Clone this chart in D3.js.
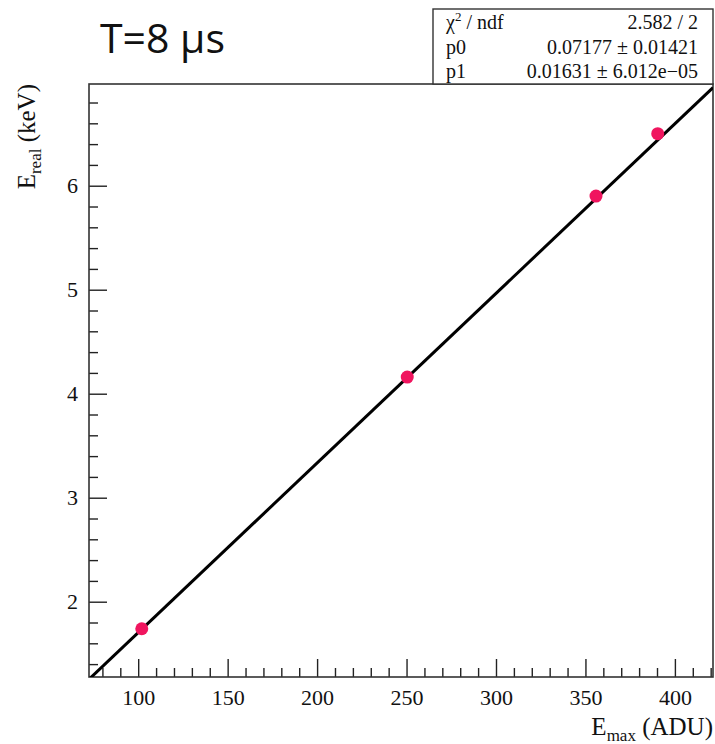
<!DOCTYPE html>
<html>
<head>
<meta charset="utf-8">
<script src="https://cdn.jsdelivr.net/npm/d3@7"></script>
<style>
  body { margin: 0; background: #fff; }
  .tick text { font-family: "Liberation Serif", "Times New Roman", serif; }
</style>
</head>
<body>
<svg id="chart" width="715" height="744"></svg>
<script>
// measured points
const eMax = [102, 250.4, 355.9, 390.4];
const eReal = [1.74, 4.16, 5.90, 6.50];

// linear fit E_real = p0 + p1 * E_max
const p0 = 0.07177;
const p1 = 0.01631;

const statLabels = ["χ² / ndf", "p0", "p1"];
const statValues = ["2.582 / 2", "0.07177 ± 0.01421", "0.01631 ± 6.012e−05"];

const xMajor = [100, 150, 200, 250, 300, 350, 400];
const yMajor = [2, 3, 4, 5, 6];

const svg = d3.select("#chart");
const frame = { left: 89, right: 713, top: 84, bottom: 677 };

const x = d3.scaleLinear().domain([72.5, 421.3]).range([frame.left, frame.right]);
const y = d3.scaleLinear().domain([1.276, 6.978]).range([frame.bottom, frame.top]);

const xMinor = d3.range(80, 421, 10).filter(d => !xMajor.includes(d));
const yMinor = d3.range(1.4, 6.98, 0.2).map(d => +d.toFixed(1)).filter(d => !yMajor.includes(d));

const serif = "'Liberation Serif', 'Times New Roman', serif";
const axisColor = "#222";

// title
svg.append("text")
  .attr("x", 100)
  .attr("y", 53)
  .attr("font-family", "'Open Sans', sans-serif")
  .attr("font-size", 41)
  .attr("fill", "#111")
  .text("T=8 μs");

// x axis
const gx = svg.append("g").attr("transform", `translate(0, ${frame.bottom})`);
gx.call(d3.axisBottom(x).tickValues(xMajor).tickSize(-18).tickPadding(12).tickFormat(d3.format("d")));
gx.call(g => g.select(".domain").remove());
gx.selectAll(".tick line").attr("stroke", axisColor).attr("stroke-width", 1.4);
gx.selectAll(".tick text").attr("font-size", 22).attr("fill", "#111");

const gxm = svg.append("g").attr("transform", `translate(0, ${frame.bottom})`);
gxm.call(d3.axisBottom(x).tickValues(xMinor).tickSize(-9).tickFormat(""));
gxm.call(g => g.select(".domain").remove());
gxm.selectAll(".tick line").attr("stroke", axisColor).attr("stroke-width", 1.4);

// y axis
const gy = svg.append("g").attr("transform", `translate(${frame.left}, 0)`);
gy.call(d3.axisLeft(y).tickValues(yMajor).tickSize(-18).tickPadding(11).tickFormat(d3.format("d")));
gy.call(g => g.select(".domain").remove());
gy.selectAll(".tick line").attr("stroke", axisColor).attr("stroke-width", 1.4);
gy.selectAll(".tick text").attr("font-size", 22).attr("fill", "#111");

const gym = svg.append("g").attr("transform", `translate(${frame.left}, 0)`);
gym.call(d3.axisLeft(y).tickValues(yMinor).tickSize(-9).tickFormat(""));
gym.call(g => g.select(".domain").remove());
gym.selectAll(".tick line").attr("stroke", axisColor).attr("stroke-width", 1.4);

// frame
svg.append("rect")
  .attr("x", frame.left)
  .attr("y", frame.top)
  .attr("width", frame.right - frame.left)
  .attr("height", frame.bottom - frame.top)
  .attr("fill", "none")
  .attr("stroke", "#333")
  .attr("stroke-width", 1.6);

// fit line, clipped to frame
svg.append("clipPath").attr("id", "clip")
  .append("rect")
  .attr("x", frame.left)
  .attr("y", frame.top)
  .attr("width", frame.right - frame.left)
  .attr("height", frame.bottom - frame.top);

const fitX = x.domain();
svg.append("path")
  .attr("clip-path", "url(#clip)")
  .datum(fitX)
  .attr("d", d3.line().x(d => x(d)).y(d => y(p0 + p1 * d)))
  .attr("fill", "none")
  .attr("stroke", "#000")
  .attr("stroke-width", 3);

// data points
svg.selectAll(".pt")
  .data(eMax.map((d, i) => [d, eReal[i]]))
  .join("circle")
  .attr("class", "pt")
  .attr("cx", d => x(d[0]))
  .attr("cy", d => y(d[1]))
  .attr("r", 6.5)
  .attr("fill", "#f0155f");

// axis titles
const xt = svg.append("text")
  .attr("x", 713)
  .attr("y", 735)
  .attr("text-anchor", "end")
  .attr("font-family", serif)
  .attr("font-size", 25)
  .attr("fill", "#111");
xt.append("tspan").text("E");
xt.append("tspan").attr("font-size", 17).attr("dy", 6).text("max");
xt.append("tspan").attr("dy", -6).text(" (ADU)");

const yt = svg.append("text")
  .attr("transform", "translate(35, 84) rotate(-90)")
  .attr("text-anchor", "end")
  .attr("font-family", serif)
  .attr("font-size", 25)
  .attr("fill", "#111");
yt.append("tspan").text("E");
yt.append("tspan").attr("font-size", 17).attr("dy", 6).text("real");
yt.append("tspan").attr("dy", -6).text(" (keV)");

// stats box
svg.append("rect")
  .attr("x", 433)
  .attr("y", 9)
  .attr("width", 280)
  .attr("height", 75)
  .attr("fill", "#fff")
  .attr("stroke", "#333")
  .attr("stroke-width", 1.4);

const rowY = [29, 54, 78];
statLabels.forEach((lab, i) => {
  const t = svg.append("text")
    .attr("x", 446)
    .attr("y", rowY[i])
    .attr("font-family", serif)
    .attr("font-size", 20)
    .attr("fill", "#111");
  if (i === 0) {
    t.append("tspan").text("χ");
    t.append("tspan").attr("font-size", 13).attr("dy", -8).text("2");
    t.append("tspan").attr("dy", 8).text(" / ndf");
  } else {
    t.text(lab);
  }
  svg.append("text")
    .attr("x", 698)
    .attr("y", rowY[i])
    .attr("text-anchor", "end")
    .attr("font-family", serif)
    .attr("font-size", 20)
    .attr("fill", "#111")
    .text(statValues[i]);
});
</script>
</body>
</html>
